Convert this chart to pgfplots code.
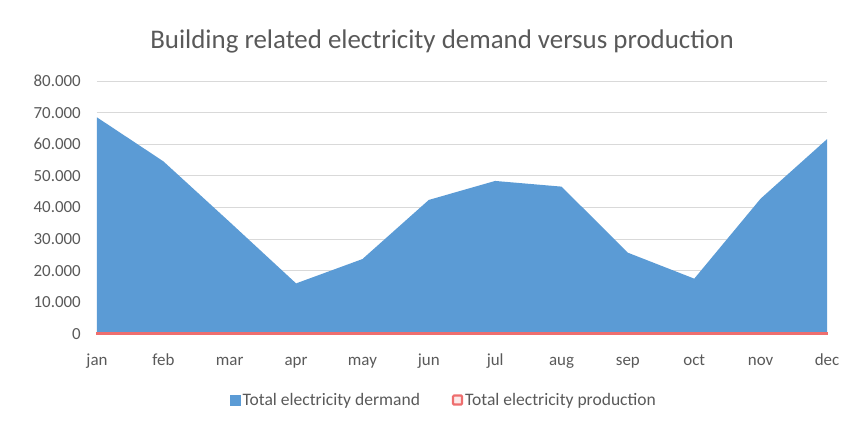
\documentclass[border=0pt]{standalone}
\usepackage{fontspec}
\setmainfont{Carlito}
\usepackage{pgfplots}
\pgfplotsset{compat=1.18}
\definecolor{blueA}{HTML}{5B9BD5}
\definecolor{redA}{HTML}{EE6E6E}
\definecolor{txt}{HTML}{595959}
\definecolor{grd}{HTML}{D9D9D9}
\begin{document}
\begin{tikzpicture}
\begin{axis}[
  scale only axis, width=730bp, height=253bp,
  xmin=0, xmax=11, ymin=0, ymax=80000,
  clip=false,
  scaled y ticks=false,
  xtick={0,...,11},
  xticklabels={jan,feb,mar,apr,may,jun,jul,aug,sep,oct,nov,dec},
  ytick={0,10000,20000,30000,40000,50000,60000,70000,80000},
  yticklabels={0,10.000,20.000,30.000,40.000,50.000,60.000,70.000,80.000},
  axis line style={draw=none},
  major tick length=0pt,
  ymajorgrids, grid style={grd, line width=0.8bp},
  tick label style={font=\fontsize{17}{20}\selectfont, text=txt},
  yticklabel style={anchor=east, inner sep=0pt, xshift=-16bp},
  xticklabel style={anchor=base, inner sep=0pt, yshift=-31bp},
  legend columns=2,
  legend style={draw=none, fill=none, at={(axis description cs:0.4755,-0.261)}, anchor=center,
    font=\fontsize{17.6}{20}\selectfont, text=txt, /tikz/every even column/.append style={column sep=30bp}},
]
\addplot[fill=blueA, draw=none, forget plot] coordinates {
 (0,68500) (1,54600) (2,35400) (3,16000) (4,23700) (5,42400)
 (6,48400) (7,46600) (8,25700) (9,17500) (10,42800) (11,61600)} \closedcycle;
\addplot[fill=redA!45, draw=redA, line width=1.2bp, forget plot] coordinates {
 (0,500) (1,500) (2,500) (3,500) (4,500) (5,500)
 (6,500) (7,500) (8,500) (9,500) (10,500) (11,500)} \closedcycle;
\addlegendimage{legend image code/.code={\fill[blueA] (0bp,-5bp) rectangle (10bp,5bp);}}
\addlegendentry{Total electricity dermand}
\addlegendimage{legend image code/.code={\draw[redA, fill=redA!15, line width=2.2bp, rounded corners=1bp] (0bp,-4.5bp) rectangle (9bp,4.5bp);}}
\addlegendentry{Total electricity production}
\coordinate (O) at (rel axis cs:0,0);
\node[font=\fontsize{27}{32}\selectfont, text=txt] at (axis description cs:0.4726,1.158) {Building related electricity demand versus production};
\end{axis}
\pgfresetboundingbox
\path[use as bounding box] ([shift={(-97bp,-96bp)}]O) rectangle ++(843bp,430bp);
\end{tikzpicture}
\end{document}
